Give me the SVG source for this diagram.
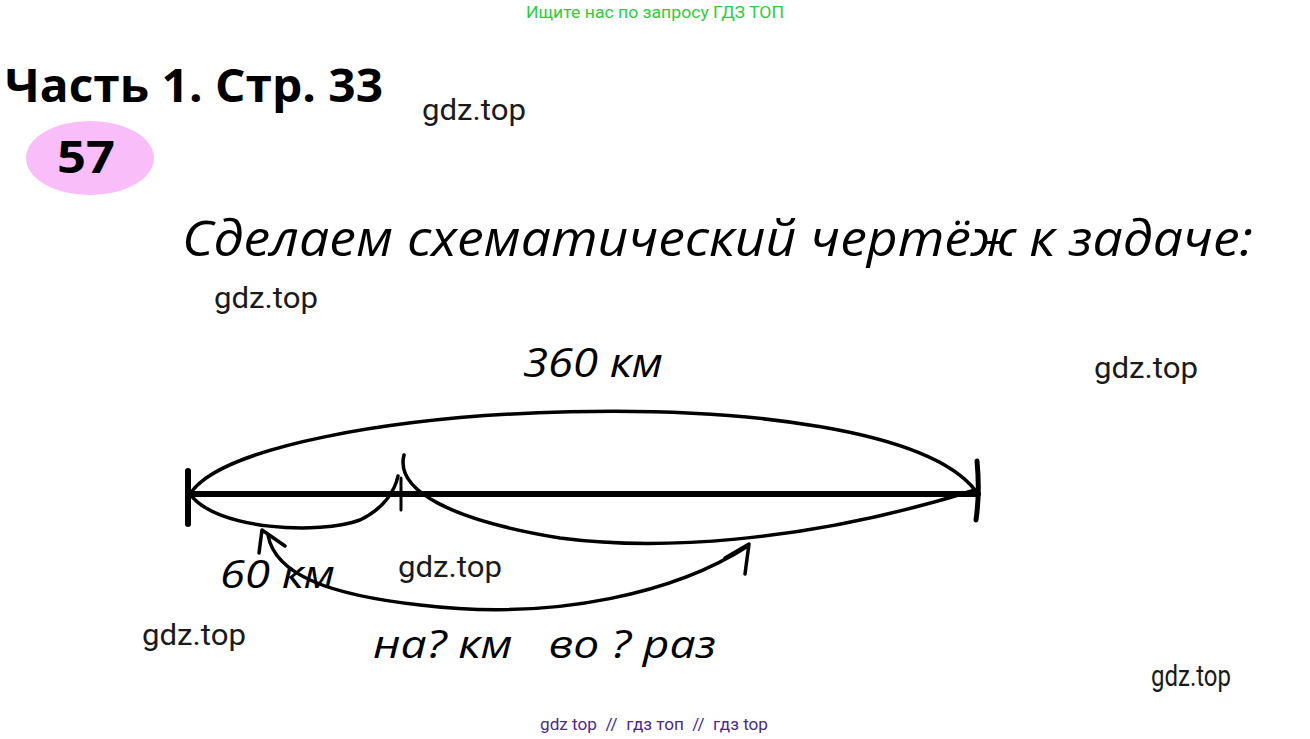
<svg xmlns="http://www.w3.org/2000/svg" width="1310" height="739" viewBox="0 0 1310 739">
<style>
.wm{font-family:Roboto,"Liberation Sans",sans-serif;font-size:29px;fill:#1a1a1a}
.hand{font-family:"Open Sans","Liberation Sans",sans-serif;font-style:italic;fill:#000}
.ln{fill:none;stroke:#000;stroke-linecap:round;stroke-linejoin:round}
</style>
<rect width="1310" height="739" fill="#fff"/>
<g id="header">
<text x="655" y="18" text-anchor="middle" font-family="Roboto,'Liberation Sans',sans-serif" font-size="16" fill="#2ecc40" textLength="258" lengthAdjust="spacingAndGlyphs">Ищите нас по запросу ГДЗ ТОП</text>
<text x="5" y="102" font-family="'Open Sans','Liberation Sans',sans-serif" font-weight="bold" font-size="46" fill="#000" textLength="378" lengthAdjust="spacingAndGlyphs">Часть 1. Стр. 33</text>
</g>
<g id="badge">
<ellipse cx="90" cy="158" rx="64" ry="37" fill="#f9bdf9"/>
<text x="86" y="173" text-anchor="middle" font-family="'Open Sans','Liberation Sans',sans-serif" font-weight="bold" font-size="44" fill="#000" textLength="58" lengthAdjust="spacingAndGlyphs">57</text>
</g>
<g id="title">
<text class="hand" x="182" y="256" font-size="49" textLength="1071" lengthAdjust="spacingAndGlyphs">Сделаем схематический чертёж к задаче:</text>
</g>
<g id="watermarks">
<text class="wm" x="422" y="120" textLength="104" lengthAdjust="spacingAndGlyphs">gdz.top</text>
<text class="wm" x="214" y="308" textLength="104" lengthAdjust="spacingAndGlyphs">gdz.top</text>
<text class="wm" x="1094" y="378" textLength="104" lengthAdjust="spacingAndGlyphs">gdz.top</text>
<text class="wm" x="398" y="577" textLength="104" lengthAdjust="spacingAndGlyphs">gdz.top</text>
<text class="wm" x="142" y="645" textLength="104" lengthAdjust="spacingAndGlyphs">gdz.top</text>
<text class="wm" x="1151" y="686" font-size="24" textLength="80" lengthAdjust="spacingAndGlyphs">gdz.top</text>
</g>
<g id="connectors">
<path class="ln" d="M188,494 L978,494" stroke-width="6"/>
<path class="ln" d="M188,471 L188,524" stroke-width="6"/>
<path class="ln" d="M977,461 Q980,492 976,520" stroke-width="5"/>
<path class="ln" d="M401,478 L401,510" stroke-width="3"/>
<path class="ln" d="M190,494 C250,400 880,370 975,490" stroke-width="3.5"/>
<path class="ln" d="M190,494 C215,530 320,535 360,520 C385,508 395,490 398,476" stroke-width="3.5"/>
<path class="ln" d="M404,455 C395,490 450,520 560,538 C650,550 800,545 975,490" stroke-width="3.5"/>
<path class="ln" d="M268,535 C275,575 330,595 420,605 C560,622 680,590 748,546" stroke-width="3.5"/>
<path class="ln" d="M259,553 L262,530 L285,546" stroke-width="3.5"/>
<path class="ln" d="M725,558 L749,544 L745,574" stroke-width="3.5"/>
</g>
<g id="labels">
<text class="hand" x="523" y="377" font-size="40" textLength="140" lengthAdjust="spacingAndGlyphs">360 км</text>
<text class="hand" x="220" y="588" font-size="38" textLength="115" lengthAdjust="spacingAndGlyphs">60 км</text>
<text class="hand" x="373" y="658" font-size="38" textLength="343" lengthAdjust="spacingAndGlyphs" xml:space="preserve">на? км   во ? раз</text>
</g>
<g id="footer">
<text x="654" y="730" text-anchor="middle" font-family="Roboto,'Liberation Sans',sans-serif" font-size="16" fill="#4b2a8c" textLength="228" lengthAdjust="spacingAndGlyphs" xml:space="preserve">gdz top  //  гдз топ  //  гдз top</text>
</g>
</svg>
